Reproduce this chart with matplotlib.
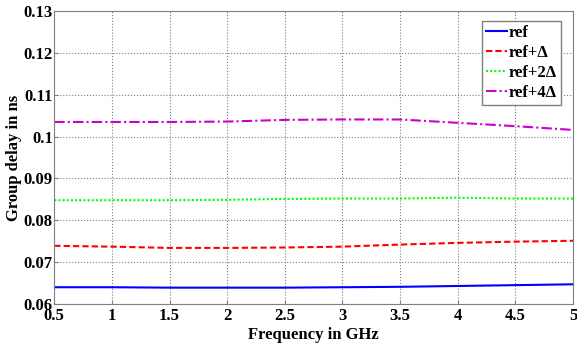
import numpy as np
import matplotlib.pyplot as plt

plt.rcParams['font.family'] = ['Liberation Serif', 'DejaVu Serif']
plt.rcParams['font.weight'] = 'bold'

freq = [0.5, 1.0, 1.5, 2.0, 2.5, 3.0, 3.5, 4.0, 4.5, 5.0]
ref = [0.0640, 0.0640, 0.0639, 0.0639, 0.0639, 0.0640, 0.0641, 0.0643, 0.0645, 0.0647]
ref_d = [0.0739, 0.0737, 0.0734, 0.0734, 0.0735, 0.0737, 0.0742, 0.0746, 0.0749, 0.0751]
ref_2d = [0.0848, 0.0848, 0.0848, 0.0849, 0.0851, 0.0852, 0.0852, 0.0854, 0.0852, 0.0852]
ref_4d = [0.1035, 0.1035, 0.1035, 0.1036, 0.1040, 0.1041, 0.1041, 0.1033, 0.1025, 0.1016]

labels = ['ref', 'ref+\u0394', 'ref+2\u0394', 'ref+4\u0394']
colors = ['#0000ff', '#ff0000', '#00ff00', '#cc00cc']
styles = ['-', (0, (3, 1.5)), (0, (1, 1)), (0, (5, 1.5, 1, 1.5))]

fig = plt.figure(figsize=(5.77, 3.47), dpi=100)
ax = fig.add_axes([0.094, 0.124, 0.899, 0.844])

for y, lab, c, ls in zip([ref, ref_d, ref_2d, ref_4d], labels, colors, styles):
    ax.plot(freq, y, color=c, linestyle=ls, linewidth=1.5, label=lab)

ax.set_xlim(0.5, 5)
ax.set_ylim(0.06, 0.13)
ax.set_xticks(np.arange(0.5, 5.01, 0.5))
ax.set_xticklabels(['0.5', '1', '1.5', '2', '2.5', '3', '3.5', '4', '4.5', '5'])
ax.set_yticks(np.arange(0.06, 0.1301, 0.01))
ax.set_yticklabels(['0.06', '0.07', '0.08', '0.09', '0.1', '0.11', '0.12', '0.13'])
ax.tick_params(labelsize=12, length=3, direction='in', color='#808080', pad=1)
ax.tick_params(axis='x', pad=3)
ax.grid(True, linestyle=':', color='#808080', linewidth=0.8)
for s in ax.spines.values():
    s.set_color('#808080')

ax.set_xlabel('Frequency in GHz', fontsize=12, fontweight='bold', labelpad=2)
ax.set_ylabel('Group delay in ns', fontsize=12, fontweight='bold', labelpad=1)

leg = ax.legend(loc='upper right', bbox_to_anchor=(0.976, 0.965), fontsize=12,
                handlelength=1.3, handletextpad=0.1, borderpad=0.2, labelspacing=0.25,
                fancybox=False, framealpha=1, borderaxespad=0)
leg.get_frame().set_edgecolor('#808080')
for t in leg.get_texts():
    t.set_fontweight('bold')

fig.savefig('out.png', dpi=100)
